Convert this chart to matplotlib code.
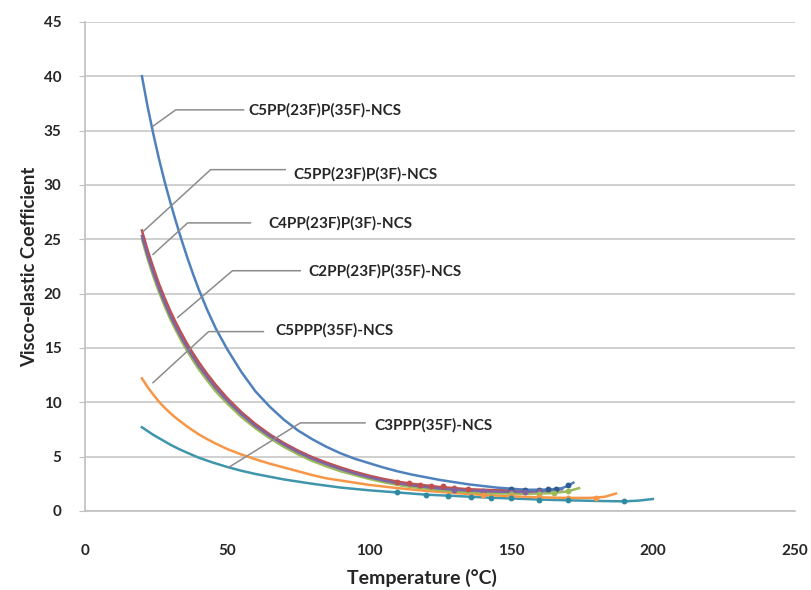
import matplotlib
matplotlib.use("Agg")
import matplotlib.pyplot as plt

plt.rcParams['font.family'] = ['Lato', 'DejaVu Sans']

# ---- data (fitted curves) ----
t_blue = [20, 22, 24, 26, 28, 30, 32, 34, 36, 38, 40, 43, 46, 50, 55, 60, 65, 70, 75, 80, 85, 90, 95, 100,
          105, 110, 115, 120, 125, 130, 135, 140, 145, 150, 155, 160, 165, 168, 170, 172]
v_blue = [40, 37.2, 34.7, 32.4, 30.3, 28.4, 26.6, 24.9, 23.3, 21.8, 20.4, 18.5, 16.8, 14.9, 12.8, 11.0, 9.6, 8.4, 7.4, 6.6, 5.9, 5.3, 4.8, 4.4,
          4.0, 3.65, 3.35, 3.1, 2.85, 2.65, 2.45, 2.3, 2.15, 2.05, 1.95, 1.95, 2.0, 2.1, 2.3, 2.6]

t_red = [20, 22, 24, 26, 28, 30, 32, 34, 36, 38, 40, 43, 46, 50, 55, 60, 65, 70, 75, 80, 85, 90, 95, 100,
         105, 110, 115, 120, 125, 130, 135, 140, 145, 150, 155]
v_red = [25.8, 24.0, 22.4, 20.9, 19.6, 18.4, 17.3, 16.3, 15.35, 14.5, 13.7, 12.6, 11.6, 10.4, 9.1, 8.0, 7.05, 6.25, 5.55, 4.95, 4.45, 4.0, 3.6, 3.25,
         2.95, 2.7, 2.5, 2.35, 2.2, 2.1, 2.0, 1.95, 1.9, 1.9, 1.95]

t_purple = [20, 22, 24, 26, 28, 30, 32, 34, 36, 38, 40, 43, 46, 50, 55, 60, 65, 70, 75, 80, 85, 90, 95, 100,
            105, 110, 115, 120, 125, 130, 135, 140, 145, 150, 155, 160, 165, 168]
v_purple = [25.3, 23.5, 21.9, 20.45, 19.15, 17.95, 16.9, 15.9, 15.0, 14.15, 13.35, 12.3, 11.3, 10.15, 8.9, 7.8, 6.9, 6.1, 5.4, 4.8, 4.3, 3.85, 3.45, 3.1,
            2.8, 2.55, 2.35, 2.2, 2.05, 1.95, 1.88, 1.82, 1.78, 1.75, 1.75, 1.8, 1.9, 2.0]

t_green = [20, 22, 24, 26, 28, 30, 32, 34, 36, 38, 40, 43, 46, 50, 55, 60, 65, 70, 75, 80, 85, 90, 95, 100,
           105, 110, 115, 120, 125, 130, 135, 140, 145, 150, 155, 160, 165, 170, 174]
v_green = [25.0, 23.2, 21.6, 20.15, 18.85, 17.65, 16.6, 15.6, 14.7, 13.85, 13.05, 12.0, 11.0, 9.9, 8.65, 7.6, 6.7, 5.9, 5.2, 4.6, 4.1, 3.65, 3.3, 2.95,
           2.65, 2.4, 2.2, 2.05, 1.9, 1.8, 1.72, 1.66, 1.62, 1.6, 1.58, 1.6, 1.65, 1.8, 2.1]

t_orange = [20, 22, 24, 26, 28, 30, 32, 34, 36, 38, 40, 43, 46, 50, 55, 60, 65, 70, 75, 80, 85, 90, 95, 100,
            110, 120, 130, 140, 150, 160, 170, 178, 183, 187]
v_orange = [12.2, 11.4, 10.7, 10.05, 9.5, 9.0, 8.55, 8.15, 7.75, 7.4, 7.05, 6.6, 6.2, 5.7, 5.2, 4.75, 4.35, 4.0, 3.65, 3.3, 3.0, 2.8, 2.6, 2.4,
            2.1, 1.85, 1.65, 1.48, 1.35, 1.25, 1.2, 1.2, 1.3, 1.6]

t_teal = [20, 22, 24, 26, 28, 30, 33, 36, 40, 45, 50, 55, 60, 65, 70, 75, 80, 90, 100,
          110, 120, 130, 140, 150, 160, 170, 180, 190, 195, 200]
v_teal = [7.7, 7.35, 7.0, 6.7, 6.4, 6.1, 5.7, 5.35, 4.9, 4.45, 4.05, 3.7, 3.4, 3.15, 2.9, 2.7, 2.5, 2.15, 1.9,
          1.7, 1.5, 1.38, 1.25, 1.15, 1.05, 0.98, 0.92, 0.88, 0.95, 1.1]

# ---- measured points ----
pt_red_t = [110, 114, 118, 122, 126, 130, 135]
pt_red_v = [2.7, 2.55, 2.4, 2.3, 2.25, 2.15, 2.05]
pt_blue_t = [150, 155, 160, 163, 166, 170]
pt_blue_v = [2.0, 1.95, 1.95, 2.0, 2.05, 2.35]
pt_purple_t = [130, 140, 150, 155, 160]
pt_purple_v = [1.95, 1.82, 1.75, 1.75, 1.8]
pt_green_t = [150, 160, 165, 170]
pt_green_v = [1.6, 1.6, 1.65, 1.8]
pt_orange_t = [140, 150, 160, 170, 180]
pt_orange_v = [1.48, 1.35, 1.25, 1.2, 1.22]
pt_teal_t = [110, 120, 128, 136, 143, 150, 160, 170, 190]
pt_teal_v = [1.7, 1.5, 1.4, 1.3, 1.22, 1.15, 1.05, 0.98, 0.88]

labels = ["C5PP(23F)P(35F)-NCS", "C5PP(23F)P(3F)-NCS", "C4PP(23F)P(3F)-NCS",
          "C2PP(23F)P(35F)-NCS", "C5PPP(35F)-NCS", "C3PPP(35F)-NCS"]

c_blue, c_red, c_green, c_purple, c_teal, c_orange = "#4F81BD", "#C0504D", "#9BBB59", "#8064A2", "#3E95AC", "#F79646"

fig = plt.figure(figsize=(8.11, 5.90), dpi=100)
ax = fig.add_axes([0.105, 0.134, 0.875, 0.829])

lw = 1.8
ax.plot(t_teal, v_teal, color=c_teal, lw=lw, zorder=3)
ax.plot(t_orange, v_orange, color=c_orange, lw=lw, zorder=3)
ax.plot(t_green, v_green, color=c_green, lw=lw, zorder=3)
ax.plot(t_red, v_red, color=c_red, lw=lw, zorder=3)
ax.plot(t_purple, v_purple, color=c_purple, lw=lw, zorder=3)
ax.plot(t_blue, v_blue, color=c_blue, lw=lw, zorder=3)

ms = 3.2
for tt, vv, c in [(pt_red_t, pt_red_v, c_red), (pt_blue_t, pt_blue_v, "#2F5A8F"),
                  (pt_purple_t, pt_purple_v, c_purple), (pt_green_t, pt_green_v, c_green),
                  (pt_orange_t, pt_orange_v, c_orange), (pt_teal_t, pt_teal_v, "#2E8AA0")]:
    ax.plot(tt, vv, linestyle="none", marker="o", ms=ms, color=c, zorder=4)

# callouts: (curve point, elbow, end, text position)
callouts = [
    ((23.9, 35.4), (31.9, 36.9), (55.8, 36.9), (57.6, 36.9)),
    ((20.4, 25.7), (44.2, 31.4), (70.5, 31.4), (73.2, 31.0)),
    ((23.9, 23.6), (36.1, 26.5), (58.2, 26.5), (64.6, 26.5)),
    ((32.6, 17.8), (51.9, 22.1), (75.8, 22.1), (78.6, 22.0)),
    ((23.9, 11.8), (43.5, 16.5), (62.8, 16.5), (67.0, 16.6)),
    ((50.5, 4.0), (75.8, 8.1), (98.6, 8.1), (102.0, 7.9)),
]
for lab, (p0, p1, p2, pt) in zip(labels, callouts):
    ax.plot([p0[0], p1[0], p2[0]], [p0[1], p1[1], p2[1]], color="#8C8C8C", lw=1.1, zorder=5)
    ax.text(pt[0], pt[1], lab, fontsize=11, fontweight="bold", color="#262626",
            va="center", ha="left", zorder=6)

ax.set_xlim(0, 250)
ax.set_ylim(0, 45)
ax.set_xticks(range(0, 251, 50))
ax.set_yticks(range(0, 46, 5))
ax.yaxis.grid(True, color="#C8C8C8", lw=1.2)
ax.set_axisbelow(True)
for s in ["top", "right"]:
    ax.spines[s].set_visible(False)
for s in ["left", "bottom"]:
    ax.spines[s].set_color("#C0C0C0")
    ax.spines[s].set_linewidth(1.2)
ax.tick_params(axis="y", length=4, color="#C0C0C0", labelsize=11, labelcolor="#262626", pad=13)
ax.tick_params(axis="x", length=0, labelsize=11, labelcolor="#262626", pad=24)
for lbl in ax.get_xticklabels() + ax.get_yticklabels():
    lbl.set_fontweight("bold")

ax.set_xlabel("Temperature (°C)", fontsize=14, fontweight="bold", color="#262626")
ax.xaxis.set_label_coords(0.475, -0.118)
ax.set_ylabel("Visco-elastic Coefficient", fontsize=13.3, fontweight="bold", color="#262626")
ax.yaxis.set_label_coords(-0.066, 0.5)

fig.savefig("out.png", dpi=100)
